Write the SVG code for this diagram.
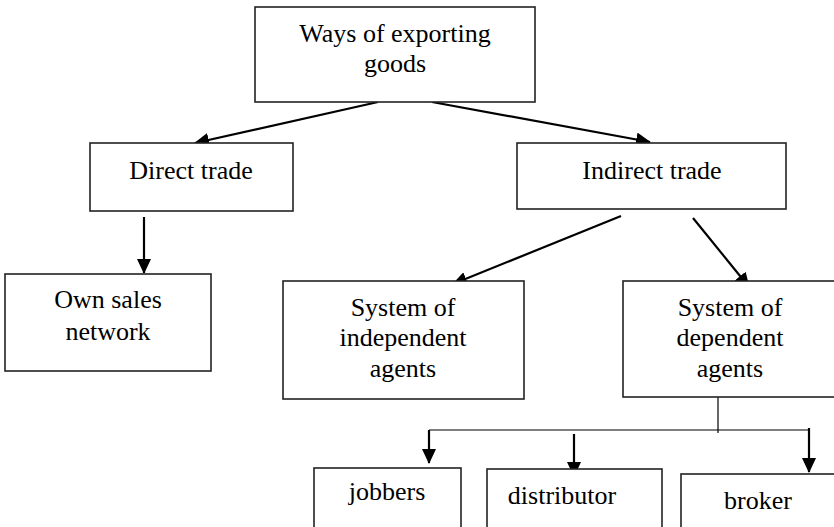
<svg xmlns="http://www.w3.org/2000/svg" width="834" height="527" viewBox="0 0 834 527">
<style>
.box{fill:#fff;stroke:#222;stroke-width:1.6}
.t{font-family:'Liberation Serif','Times New Roman',Times,'DejaVu Serif',serif;font-size:26px;fill:#000;text-anchor:middle}
.arr{stroke:#000;stroke-width:2.2;fill:none;marker-end:url(#ah)}
.thin{stroke:#000;stroke-width:1.2;fill:none}
</style>
<defs>
<marker id="ah" viewBox="0 0 15 14" refX="14" refY="7" markerWidth="15" markerHeight="14" markerUnits="userSpaceOnUse" orient="auto">
<path d="M0,0 L15,7 L0,14 z" fill="#000"/>
</marker>
</defs>
<rect width="834" height="527" fill="#fff"/>
<g id="connectors">
<line class="arr" x1="378" y1="102" x2="195" y2="143"/>
<line class="arr" x1="432" y1="102" x2="650" y2="142"/>
<line class="arr" x1="144" y1="217" x2="144" y2="273"/>
<line class="arr" x1="621" y1="216" x2="453" y2="284"/>
<line class="arr" x1="693" y1="218" x2="749" y2="287"/>
<line class="thin" x1="718" y1="397" x2="718" y2="433"/>
<line class="thin" x1="429" y1="430" x2="809" y2="430"/>
<line class="arr" x1="429" y1="430" x2="429" y2="463"/>
<line class="arr" x1="574" y1="434" x2="574" y2="476"/>
<line class="arr" x1="809" y1="428" x2="809" y2="472"/>
</g>
<g id="ways">
<rect class="box" x="255" y="7" width="280" height="95"/>
<text class="t" x="395" y="42" font-family="Liberation Serif, serif">Ways of exporting</text>
<text class="t" x="395" y="72" font-family="Liberation Serif, serif">goods</text>
</g>
<g id="direct">
<rect class="box" x="90" y="143" width="203" height="68"/>
<text class="t" x="191" y="179">Direct trade</text>
</g>
<g id="indirect">
<rect class="box" x="517" y="143" width="269" height="66"/>
<text class="t" x="652" y="179">Indirect trade</text>
</g>
<g id="own">
<rect class="box" x="5" y="274" width="206" height="97"/>
<text class="t" x="108" y="308">Own sales</text>
<text class="t" x="108" y="340">network</text>
</g>
<g id="independent">
<rect class="box" x="283" y="281" width="241" height="118"/>
<text class="t" x="403" y="316">System of</text>
<text class="t" x="403" y="346">independent</text>
<text class="t" x="403" y="377">agents</text>
</g>
<g id="dependent">
<rect class="box" x="623" y="281" width="214" height="116"/>
<text class="t" x="730" y="316">System of</text>
<text class="t" x="730" y="346">dependent</text>
<text class="t" x="730" y="377">agents</text>
</g>
<g id="jobbers">
<rect class="box" x="314" y="468" width="147" height="70"/>
<text class="t" x="387" y="500">jobbers</text>
</g>
<g id="distributor">
<rect class="box" x="487" y="469" width="175" height="70"/>
<text class="t" x="562" y="504">distributor</text>
</g>
<g id="broker">
<rect class="box" x="681" y="474" width="160" height="70"/>
<text class="t" x="758" y="509">broker</text>
</g>
</svg>
